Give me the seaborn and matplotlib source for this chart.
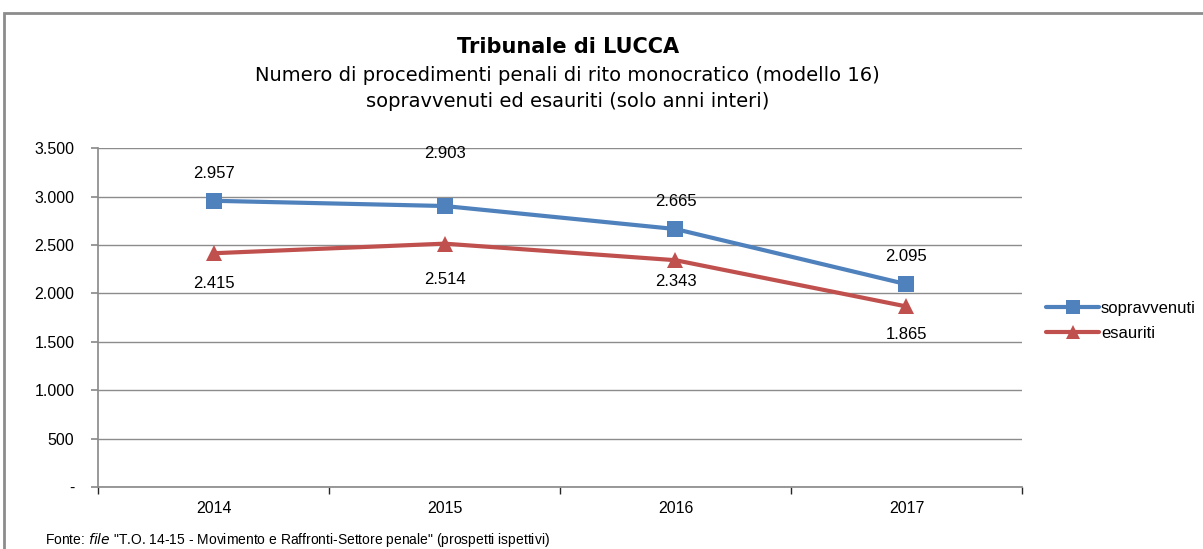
import numpy as np
import pandas as pd
import matplotlib.pyplot as plt
import seaborn as sns
from matplotlib.patches import Rectangle
from matplotlib.lines import Line2D

sns.set_theme(style="white")
plt.rcParams['font.family'] = ['Liberation Sans', 'DejaVu Sans']
plt.rcParams['text.color'] = 'black'

years = ["2014", "2015", "2016", "2017"]
sopravvenuti = [2957, 2903, 2665, 2095]
esauriti = [2415, 2514, 2343, 1865]
yticks = [0, 500, 1000, 1500, 2000, 2500, 3000, 3500]
ytick_labels = ["-", "500", "1.000", "1.500", "2.000", "2.500", "3.000", "3.500"]

df = pd.DataFrame({
    "anno": years * 2,
    "valore": sopravvenuti + esauriti,
    "serie": ["sopravvenuti"] * 4 + ["esauriti"] * 4,
})

colors = {"sopravvenuti": "#4F81BD", "esauriti": "#C0504D"}
markers = {"sopravvenuti": "s", "esauriti": "^"}

fig = plt.figure(figsize=(12.03, 5.49), dpi=100)
ax = fig.add_axes([0.0815, 0.113, 0.768, 0.617])

sns.lineplot(data=df, x="anno", y="valore", hue="serie", style="serie",
             palette=colors, markers=markers, dashes=False, linewidth=3,
             markersize=12, markeredgewidth=0, ax=ax, legend=False, sort=False)

ax.set_xlim(-0.5, 3.5)
ax.set_ylim(0, 3500)
ax.set_yticks(yticks)
ax.set_yticklabels(ytick_labels)
ax.set_xticks(np.arange(-0.5, 4, 1), minor=True)
ax.yaxis.grid(True, color="#8c8c8c", linewidth=1)
ax.set_axisbelow(True)
for s in ["top", "right"]:
    ax.spines[s].set_visible(False)
ax.spines["left"].set_color("#8c8c8c")
ax.spines["bottom"].set_color("#8c8c8c")
ax.tick_params(axis="both", labelsize=11.5, labelcolor="black", color="#8c8c8c")
ax.tick_params(axis="y", which="major", left=True, length=5, pad=12)
ax.tick_params(axis="x", which="major", bottom=False, length=0, pad=10)
ax.tick_params(axis="x", which="minor", bottom=True, length=5)
ax.set_xlabel("")
ax.set_ylabel("")

# data labels
sop_off = [20, 38, 20, 20]
for i, v in enumerate(sopravvenuti):
    ax.annotate(f"{v:,}".replace(",", "."), (i, v), xytext=(0, sop_off[i]),
                textcoords="offset points", ha="center", va="center", fontsize=12)
esa_off = [-22, -26, -15, -20]
for i, v in enumerate(esauriti):
    ax.annotate(f"{v:,}".replace(",", "."), (i, v), xytext=(0, esa_off[i]),
                textcoords="offset points", ha="center", va="center", fontsize=12)

# legend
handles = [Line2D([], [], color=colors[k], marker=markers[k], linewidth=3,
                  markersize=10, markeredgewidth=0) for k in ["sopravvenuti", "esauriti"]]
fig.legend(handles, ["sopravvenuti", "esauriti"], loc="center left",
           bbox_to_anchor=(0.857, 0.415), frameon=False, fontsize=12,
           handlelength=3.2, handletextpad=0.1, labelspacing=0.6)

# titles
fig.text(0.472, 0.915, "Tribunale di LUCCA", ha="center", va="center",
         fontsize=15, fontweight="bold", family=["DejaVu Sans"])
fig.text(0.472, 0.863, "Numero di procedimenti penali di rito monocratico (modello 16)",
         ha="center", va="center", fontsize=14, family=["DejaVu Sans"])
fig.text(0.472, 0.815, "sopravvenuti ed esauriti (solo anni interi)",
         ha="center", va="center", fontsize=14, family=["DejaVu Sans"])

# outer border
fig.patches.append(Rectangle((0.003, -0.1), 1.2, 1.077, transform=fig.transFigure,
                             fill=False, edgecolor="#8c8c8c", linewidth=2))

fig.text(0.037, 0.016, 'Fonte: $\\it{file}$ "T.O. 14-15 - Movimento e Raffronti-Settore penale" (prospetti ispettivi)',
         ha="left", va="center", fontsize=10)

fig.savefig("out.png", dpi=100)
